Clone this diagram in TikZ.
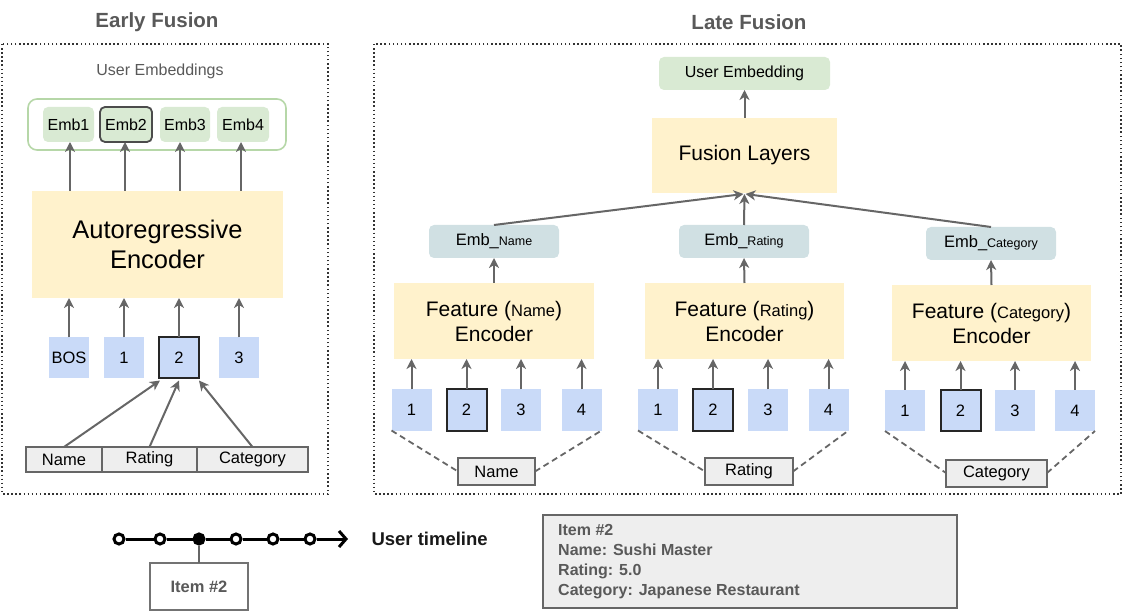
\documentclass[tikz,border=0pt]{standalone}
\usepackage{fontspec}
\setmainfont{Liberation Sans}
\usetikzlibrary{arrows.meta,calc}
\definecolor{yel}{HTML}{FFF2CC}
\definecolor{grn}{HTML}{D9EAD3}
\definecolor{grnb}{HTML}{B6D7A8}
\definecolor{blu}{HTML}{C9DAF8}
\definecolor{teal}{HTML}{D0E0E3}
\definecolor{gry}{HTML}{EEEEEE}
\definecolor{dk}{HTML}{666666}
\definecolor{txg}{HTML}{595959}
\tikzset{
  box/.style={rectangle, inner sep=0pt, outer sep=0pt},
  enc/.style={box, fill=yel},
  emb/.style={box, fill=grn, rounded corners=5pt, minimum height=35pt, font=\fontsize{16}{19}\selectfont},
  embt/.style={box, fill=teal, rounded corners=5pt, minimum width=130pt, minimum height=33pt, font=\fontsize{16.5}{19}\selectfont},
  tok/.style={box, fill=blu, minimum width=40pt, minimum height=41pt, font=\fontsize{16.5}{19}\selectfont},
  tokb/.style={tok, draw=black!85, line width=2pt},
  cell/.style={box, fill=gry, draw=dk, line width=2pt, font=\fontsize{16.5}{19}\selectfont},
  arr/.style={draw=dk, line width=2pt, -{Stealth[length=10pt,width=10pt,inset=3pt]}},
  dots/.style={draw=black!80, line width=1.8pt, dash pattern=on 1.5pt off 2.6pt},
  dsh/.style={draw=dk, line width=1.8pt, dash pattern=on 6pt off 4pt},
  ttl/.style={font=\fontsize{20.5}{24}\selectfont\bfseries, text=txg},
  circ/.style={circle, draw=black, line width=3pt, fill=white, minimum size=10pt, inner sep=0pt},
}
\begin{document}
\begin{tikzpicture}[x=1pt,y=-1pt]
\useasboundingbox (0,0) rectangle (1125,612);

% ===== Early Fusion =====
\node[ttl] (eft) at (157,22) {Early Fusion};
\draw[dots] (2,44) rectangle (328,494);
\node[font=\fontsize{16}{19}\selectfont, text=txg] (uel) at (160,71) {User Embeddings};
\draw[draw=grnb, line width=1.6pt, rounded corners=9pt] (28,99) rectangle (286,150);
\node[emb, minimum width=51pt] (e1) at (68.5,124.5) {Emb1};
\node[emb, minimum width=52pt, draw=black!70, line width=1.8pt] (e2) at (126,124.5) {Emb2};
\node[emb, minimum width=50pt] (e3) at (185,124.5) {Emb3};
\node[emb, minimum width=52pt] (e4) at (243,124.5) {Emb4};

\node[enc, minimum width=251pt, minimum height=107pt, align=center, font=\fontsize{25.5}{30}\selectfont] (are) at (157.5,244.5) {Autoregressive\\Encoder};

\foreach \e/\x in {e1/70,e2/125,e3/180,e4/241}
  \draw[arr] (\x,191) -- (\x,142);

\node[tok] (bos) at (69,358) {BOS};
\node[tok] (t1) at (124,358) {1};
\node[tokb] (t2) at (179,358) {2};
\node[tok] (t3) at (239,358) {3};
\foreach \t in {bos,t1,t2,t3}
  \draw[arr] (\t.north) -- (\t.north |- are.south);

\node[cell, minimum width=76pt, minimum height=25pt] (cn) at (64,459.5) {Name};
\node[cell, minimum width=95pt, minimum height=25pt] (cr) at (149.5,459.5) {Rating};
\node[cell, minimum width=111pt, minimum height=25pt] (cc) at (252.5,459.5) {Category};
\draw[arr] (cn.north) -- ($(t2.south west)+(1,2)$);
\draw[arr] (cr.north) -- ($(t2.south)+(0,2)$);
\draw[arr] (cc.north) -- ($(t2.south east)+(0,2)$);

% ===== Late Fusion =====
\node[ttl] (lft) at (749,22) {Late Fusion};
\draw[dots] (374,44) rectangle (1121,494);
\node[emb, minimum width=171pt, minimum height=33pt] (ue) at (744.5,73.5) {User Embedding};
\node[enc, minimum width=185pt, minimum height=75pt, font=\fontsize{21}{25}\selectfont] (fl) at (744.5,155.5) {Fusion Layers};
\draw[arr] (fl.north) -- (ue.south);

\node[embt] (en) at (494,241.5) {Emb\_{\fontsize{12.5}{14}\selectfont Name}};
\node[embt] (er) at (744,241.5) {Emb\_{\fontsize{12.5}{14}\selectfont Rating}};
\node[embt] (ec) at (991,243.5) {Emb\_{\fontsize{12.5}{14}\selectfont Category}};
\draw[arr] (en.north) -- ($(fl.south)+(-1,1)$);
\draw[arr] (er.north) -- ($(fl.south)+(0,1)$);
\draw[arr] (ec.north) -- ($(fl.south)+(1,1)$);

\node[enc, minimum width=200pt, minimum height=76pt, align=center, font=\fontsize{21}{25}\selectfont] (fn) at (494,321) {Feature ({\fontsize{16.5}{19}\selectfont Name})\\Encoder};
\node[enc, minimum width=199pt, minimum height=76pt, align=center, font=\fontsize{21}{25}\selectfont] (fr) at (744.5,321) {Feature ({\fontsize{16.5}{19}\selectfont Rating})\\Encoder};
\node[enc, minimum width=199pt, minimum height=76pt, align=center, font=\fontsize{21}{25}\selectfont] (fc) at (991.5,323) {Feature ({\fontsize{16.5}{19}\selectfont Category})\\Encoder};
\draw[arr] (fn.north) -- (en.south);
\draw[arr] (fr.north) -- (er.south);
\draw[arr] (fc.north) -- (ec.south);

% tokens
\foreach \g/\enc/\a/\b/\c/\d/\y in {n/fn/411.5/466.5/521/581.5/410, r/fr/658/713/768/828.5/410, c/fc/905/960.5/1015/1075/410.5}{
  \node[tok] (\g1) at (\a,\y) {1};
  \node[tokb] (\g2) at (\b,\y) {2};
  \node[tok] (\g3) at (\c,\y) {3};
  \node[tok] (\g4) at (\d,\y) {4};
  \foreach \i in {1,2,3,4}
    \draw[arr] (\g\i.north) -- (\g\i.north |- \enc.south);
}

\node[cell, minimum width=77pt, minimum height=27pt] (bn) at (496.5,471.5) {Name};
\node[cell, minimum width=88pt, minimum height=27pt] (br) at (749,471.5) {Rating};
\node[cell, minimum width=101pt, minimum height=27pt] (bc) at (996.5,473) {Category};
\foreach \g/\bx in {n/bn, r/br, c/bc}{
  \draw[dsh] (\g1.south west) -- (\bx.west);
  \draw[dsh] (\bx.east) -- (\g4.south east);
}

% ===== Timeline =====
\coordinate (tend) at (348,539);
\node[circ] (c1) at (119,539) {};
\node[circ] (c2) at (160,539) {};
\node[circ, fill=black] (c3) at (199,539) {};
\node[circ] (c4) at (236,539) {};
\node[circ] (c5) at (273,539) {};
\node[circ] (c6) at (310,539) {};
\draw[line width=3pt] (c1) -- (c2);
\draw[line width=3pt] (c2) -- (c3);
\draw[line width=3pt] (c3) -- (c4);
\draw[line width=3pt] (c4) -- (c5);
\draw[line width=3pt] (c5) -- (c6);
\draw[line width=3pt, -{Straight Barb[length=7pt,width=16pt]}] (c6) -- (tend);
\node[anchor=west, font=\fontsize{18.5}{22}\selectfont\bfseries, text=black!90] (utl) at (368,539) {User timeline};
\node[box, draw=black!55, line width=1.6pt, minimum width=98pt, minimum height=47pt, font=\fontsize{16.5}{19}\selectfont\bfseries, text=txg] (it2) at (199,586.5) {Item \#2};
\draw[draw=dk, line width=1.8pt] (c3.south) -- (it2.north);

\node[box, fill=gry, draw=dk, line width=2.2pt, minimum width=414pt, minimum height=93pt] (info) at (750,561.5) {};
\node[anchor=north west, align=left, inner sep=0pt, font=\fontsize{16}{20}\selectfont\bfseries, text=txg] (infot) at (558,524) {Item \#2\\Name: Sushi Master\\Rating: 5.0\\Category: Japanese Restaurant};
\end{tikzpicture}
\end{document}
